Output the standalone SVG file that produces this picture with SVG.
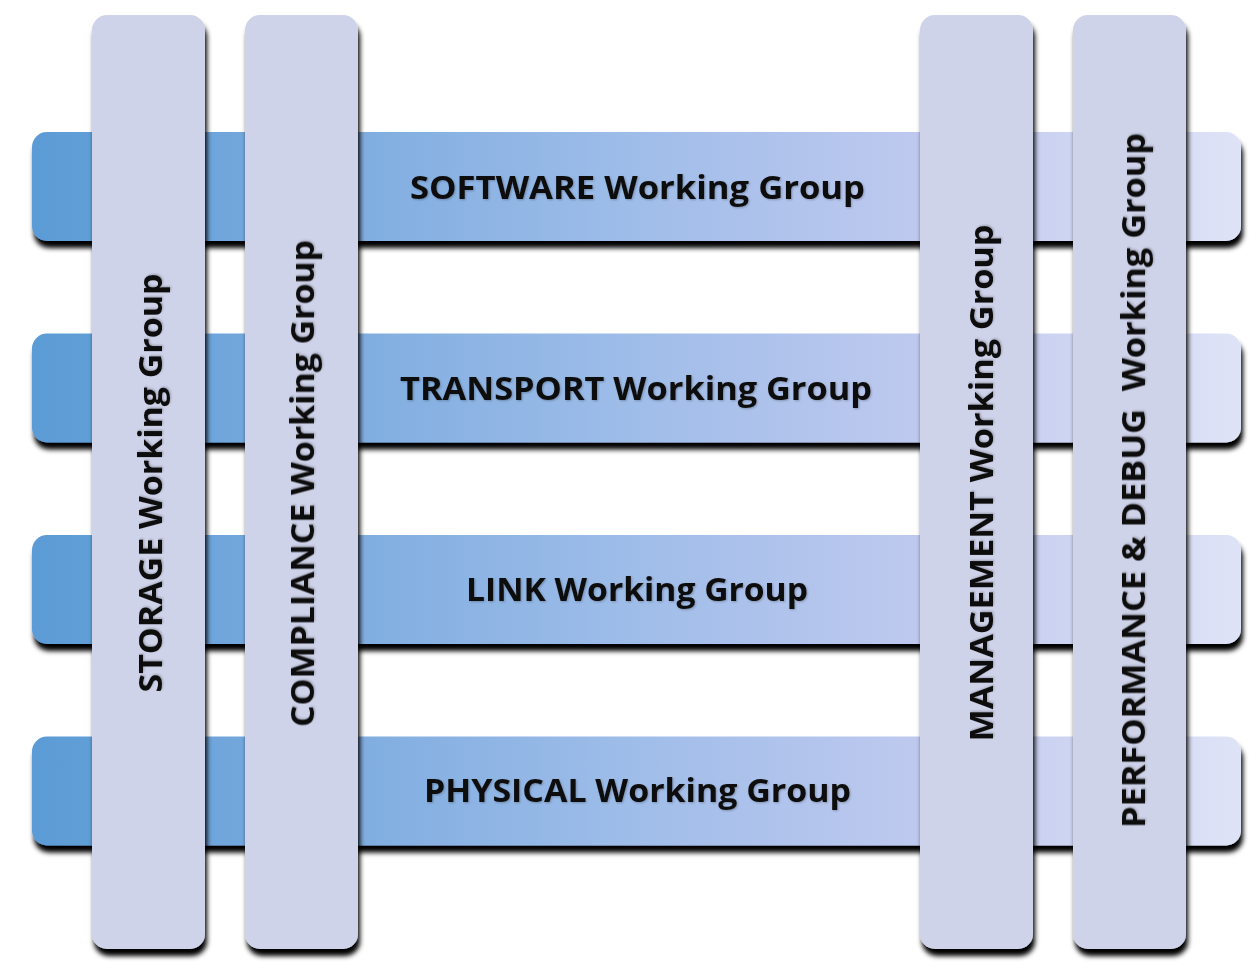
<svg xmlns="http://www.w3.org/2000/svg" width="1260" height="978" viewBox="0 0 1260 978">
  <defs>
    <linearGradient id="hgrad" x1="32" y1="0" x2="1241" y2="0" gradientUnits="userSpaceOnUse">
      <stop offset="0" stop-color="#5b9bd5"/>
      <stop offset="0.5" stop-color="#9fbde9"/>
      <stop offset="0.75" stop-color="#c1caef"/>
      <stop offset="1" stop-color="#dfe3f7"/>
    </linearGradient>
    <filter id="shadow" x="-10%" y="-10%" width="120%" height="130%">
      <feGaussianBlur in="SourceAlpha" stdDeviation="2.5"/>
      <feOffset dx="2" dy="7" result="b"/>
      <feFlood flood-color="#000" flood-opacity="1"/>
      <feComposite in2="b" operator="in" result="s"/>
      <feMerge>
        <feMergeNode in="s"/>
        <feMergeNode in="SourceGraphic"/>
      </feMerge>
    </filter>
    <filter id="tshadow" x="-5%" y="-20%" width="110%" height="140%">
      <feGaussianBlur in="SourceAlpha" stdDeviation="1"/>
      <feOffset dx="1" dy="1" result="b"/>
      <feFlood flood-color="#000" flood-opacity="0.25"/>
      <feComposite in2="b" operator="in" result="s"/>
      <feMerge>
        <feMergeNode in="s"/>
        <feMergeNode in="SourceGraphic"/>
      </feMerge>
    </filter>
  </defs>
  <style>
    .hbar { fill: url(#hgrad); filter: url(#shadow); }
    .vbar { fill: #cfd3ea; filter: url(#shadow); }
    .lbl { font-family: "Open Sans", "Noto Sans", "DejaVu Sans", sans-serif; font-weight: 700; font-size: 33px; fill: #111111; text-anchor: middle; filter: url(#tshadow); }
  </style>
  <rect width="1260" height="978" fill="#ffffff"/>

  <g id="software-bar"><rect class="hbar" x="32" y="132" width="1209" height="109" rx="15" ry="15"/></g>
  <g id="transport-bar"><rect class="hbar" x="32" y="333.5" width="1209" height="109" rx="15" ry="15"/></g>
  <g id="link-bar"><rect class="hbar" x="32" y="535" width="1209" height="109" rx="15" ry="15"/></g>
  <g id="physical-bar"><rect class="hbar" x="32" y="736.5" width="1209" height="109" rx="15" ry="15"/></g>

  <g id="storage"><rect class="vbar" x="92" y="15" width="113" height="934" rx="15" ry="15"/></g>
  <g id="compliance"><rect class="vbar" x="245" y="15" width="113" height="934" rx="15" ry="15"/></g>
  <g id="management"><rect class="vbar" x="920" y="15" width="113" height="934" rx="15" ry="15"/></g>
  <g id="performance"><rect class="vbar" x="1073" y="15" width="113" height="934" rx="15" ry="15"/></g>

  <g id="labels">
    <text class="lbl" x="637.5" y="199" textLength="455" lengthAdjust="spacingAndGlyphs">SOFTWARE Working Group</text>
    <text class="lbl" x="636" y="400" textLength="472" lengthAdjust="spacingAndGlyphs">TRANSPORT Working Group</text>
    <text class="lbl" x="637" y="601" textLength="342" lengthAdjust="spacingAndGlyphs">LINK Working Group</text>
    <text class="lbl" x="637.5" y="802" textLength="427" lengthAdjust="spacingAndGlyphs">PHYSICAL Working Group</text>
    <text class="lbl" transform="translate(162,483) rotate(-90)" x="0" y="0" textLength="419" lengthAdjust="spacingAndGlyphs">STORAGE Working Group</text>
    <text class="lbl" transform="translate(314,483.5) rotate(-90)" x="0" y="0" textLength="487" lengthAdjust="spacingAndGlyphs">COMPLIANCE Working Group</text>
    <text class="lbl" transform="translate(993,483) rotate(-90)" x="0" y="0" textLength="517" lengthAdjust="spacingAndGlyphs">MANAGEMENT Working Group</text>
    <text class="lbl" transform="translate(1145,480.5) rotate(-90)" x="0" y="0" textLength="695" lengthAdjust="spacingAndGlyphs" xml:space="preserve">PERFORMANCE &amp; DEBUG  Working Group</text>
  </g>
</svg>
